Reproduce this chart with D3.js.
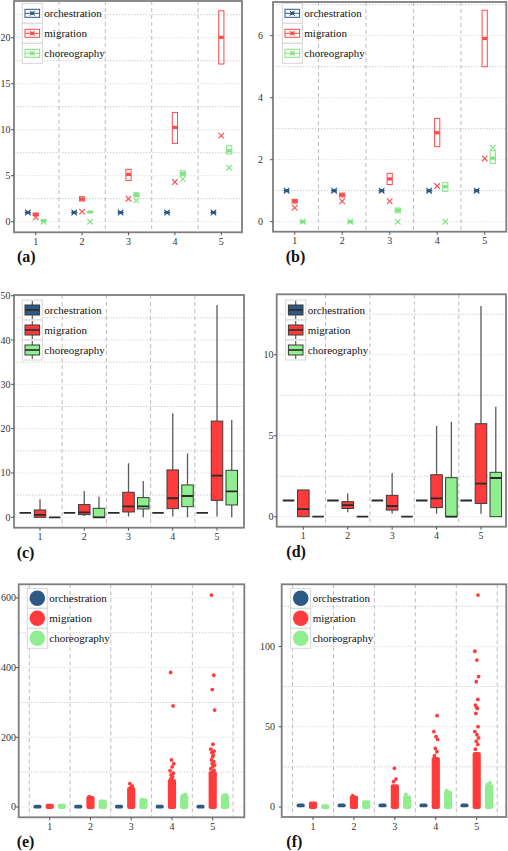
<!DOCTYPE html>
<html><head><meta charset="utf-8">
<script src="https://cdn.jsdelivr.net/npm/d3@7"></script>
<style>html,body{margin:0;padding:0;background:#fff;}svg{display:block;}
svg text{font-family:"Liberation Serif","DejaVu Serif",serif;}</style>
</head><body>
<script>
// ---------- DATA ----------
const groups = [1, 2, 3, 4, 5];
const seriesNames = ["orchestration", "migration", "choreography"];
const panelLabels = ["(a)", "(b)", "(c)", "(d)", "(e)", "(f)"];

// (a) interval plot: box low/high, mid point, cross marker
const aOrchLo = [1, 1, 1, 1, 1], aOrchHi = [1, 1, 1, 1, 1], aOrchMid = [1, 1, 1, 1, 1], aOrchX = [1, 1, 1, 1, 1];
const aMigLo = [0.66, 2.25, 4.49, 8.51, 17.14];
const aMigHi = [0.94, 2.72, 5.69, 11.88, 22.93];
const aMigMid = [0.8, 2.46, 5.14, 10.25, 20.04];
const aMigX = [0.47, 1.09, 2.5, 4.31, 9.35];
const aChoLo = [0.05, 1.0, 2.72, 5.0, 7.36];
const aChoHi = [0.15, 1.1, 3.15, 5.54, 8.26];
const aChoMid = [0.1, 1.05, 2.93, 5.25, 7.72];
const aChoX = [0, 0, 2.32, 4.64, 5.87];

// (b) interval plot
const bOrchLo = [1, 1, 1, 1, 1], bOrchHi = [1, 1, 1, 1, 1], bOrchMid = [1, 1, 1, 1, 1], bOrchX = [1, 1, 1, 1, 1];
const bMigLo = [0.6, 0.8, 1.2, 2.42, 5.0];
const bMigHi = [0.72, 0.92, 1.56, 3.33, 6.82];
const bMigMid = [0.66, 0.86, 1.38, 2.87, 5.91];
const bMigX = [0.45, 0.66, 0.66, 1.15, 2.04];
const bChoLo = [0, 0, 0.29, 0.98, 1.88];
const bChoHi = [0, 0, 0.44, 1.26, 2.29];
const bChoMid = [0, 0, 0.37, 1.13, 2.05];
const bChoX = [0, 0, 0, 0, 2.39];

// (c) boxplots: whisker low, q1, median, q3, whisker high
const cOrchWLo = [1, 1, 1, 1, 1], cOrchQ1 = [1, 1, 1, 1, 1], cOrchMed = [1, 1, 1, 1, 1], cOrchQ3 = [1, 1, 1, 1, 1], cOrchWHi = [1, 1, 1, 1, 1];
const cMigWLo = [0, 0.3, 0.2, 0.2, 0.2];
const cMigQ1 = [0, 0.6, 1.2, 1.95, 3.83];
const cMigMed = [0.55, 1.13, 2.48, 4.29, 9.4];
const cMigQ3 = [1.65, 2.86, 5.64, 10.68, 21.7];
const cMigWHi = [4.06, 5.94, 12.2, 23.5, 47.9];
const cChoWLo = [0, 0, 0, 0, 0];
const cChoQ1 = [0, 0, 1.88, 2.4, 2.78];
const cChoMed = [0, 0, 2.48, 4.8, 5.86];
const cChoQ3 = [0, 2.03, 4.44, 7.3, 10.6];
const cChoWHi = [0, 4.66, 8.2, 14.4, 21.95];

// (d) boxplots
const dOrchWLo = [1, 1, 1, 1, 1], dOrchQ1 = [1, 1, 1, 1, 1], dOrchMed = [1, 1, 1, 1, 1], dOrchQ3 = [1, 1, 1, 1, 1], dOrchWHi = [1, 1, 1, 1, 1];
const dMigWLo = [0, 0.27, 0.2, 0.19, 0.19];
const dMigQ1 = [0, 0.51, 0.41, 0.56, 0.82];
const dMigMed = [0.47, 0.72, 0.66, 1.13, 2.04];
const dMigQ3 = [1.65, 0.93, 1.32, 2.59, 5.74];
const dMigWHi = [1.65, 1.44, 2.7, 5.6, 13.0];
const dChoWLo = [0, 0, 0, 0, 0];
const dChoQ1 = [0, 0, 0, 0, 0];
const dChoMed = [0, 0, 0, 0, 2.39];
const dChoQ3 = [0, 0, 0, 2.41, 2.74];
const dChoWHi = [0, 0, 0, 5.86, 6.79];

// (e) jittered points: dense range (low, high) + individually read points
const eOrchLo = [1, 1, 1, 1, 1], eOrchHi = [1, 1, 1, 1, 1], eOrchPts = [[], [], [], [], []];
const eMigLo = [0, 0, 0, 0, 0];
const eMigHi = [4, 26, 52, 75, 97];
const eMigPts = [[], [30], [67, 60, 56], [386, 290, 135, 124, 115, 104, 97, 92, 87, 84, 80],
  [608, 378, 337, 278, 180, 166, 160, 156, 149, 144, 135, 130, 125, 120, 116, 110, 105, 101]];
const eChoLo = [0, 0, 0, 0, 0];
const eChoHi = [4, 15, 19, 29, 30];
const eChoPts = [[], [17], [22], [33, 36], [33, 35]];

// (f) jittered points
const fOrchLo = [1, 1, 1, 1, 1], fOrchHi = [1, 1, 1, 1, 1], fOrchPts = [[], [], [], [], []];
const fMigLo = [0, 0, 0, 0, 0];
const fMigHi = [2.3, 6, 13, 30, 33];
const fMigPts = [[], [7], [15.8, 17.4, 24.1], [32, 34.4, 36.5, 42.1, 43.8, 46.9, 56.9],
  [36, 39, 41, 43, 45, 47, 50, 58.3, 61.4, 62, 63.5, 67, 78, 81.2, 91.5, 97, 132]];
const fChoLo = [0, 0, 0, 0, 0];
const fChoHi = [0.5, 3, 6, 9, 13];
const fChoPts = [[], [], [7.9], [10.2], [14, 15.1]];

// tick labels
const aTicks = [0, 5, 10, 15, 20], bTicks = [0, 2, 4, 6], cTicks = [0, 10, 20, 30, 40, 50];
const dTicks = [0, 5, 10], eTicks = [0, 200, 400, 600], fTicks = [0, 50, 100];

// ---------- STYLE ----------
const colors = ["#2d5985", "#ff3b3b", "#90ee90"];
const lineColors = ["#2d5985", "#ff4a4a", "#7fe37f"];
const FONT = "Liberation Serif";
const jitterPattern = [-0.6, 0.5, -0.2, 0.85, 0.1, -0.85, 0.6, -0.4, 0.3, -0.1];

const svg = d3.select("body").append("svg").attr("width", 508).attr("height", 851)
  .style("background", "#fff");

function drawPanel(cfg) {
  const x = d3.scaleLinear().domain(cfg.xd).range([cfg.left, cfg.right]);
  const y = d3.scaleLinear().domain(cfg.yd).range([cfg.bottom, cfg.top]);
  const g = svg.append("g");
  const clipId = "clip" + cfg.id;
  svg.append("clipPath").attr("id", clipId).append("rect")
    .attr("x", cfg.left).attr("y", cfg.top).attr("width", cfg.right - cfg.left).attr("height", cfg.bottom - cfg.top);
  const inner = g.append("g").attr("clip-path", `url(#${clipId})`);
  inner.append("rect").attr("x", cfg.left).attr("y", cfg.top)
    .attr("width", cfg.right - cfg.left).attr("height", cfg.bottom - cfg.top).attr("fill", "#fff");

  // grid
  const step = cfg.ticks[1] - cfg.ticks[0];
  const minor = d3.range(cfg.ticks[0] + step / 2, cfg.yd[1], step);
  inner.selectAll(".mi").data(minor).join("line")
    .attr("x1", cfg.left).attr("x2", cfg.right).attr("y1", d => y(d)).attr("y2", d => y(d))
    .attr("stroke", "#cfcfcf").attr("stroke-width", 1).attr("stroke-dasharray", "1.5,1.5");
  inner.selectAll(".ma").data(cfg.ticks).join("line")
    .attr("x1", cfg.left).attr("x2", cfg.right).attr("y1", d => y(d)).attr("y2", d => y(d))
    .attr("stroke", "#e2e2e2").attr("stroke-width", 1).attr("stroke-dasharray", "1.5,1.5");
  inner.selectAll(".vl").data(cfg.vlines).join("line")
    .attr("x1", d => x(d)).attr("x2", d => x(d)).attr("y1", cfg.top).attr("y2", cfg.bottom)
    .attr("stroke", "#bdbdbd").attr("stroke-width", 1).attr("stroke-dasharray", "4,3");

  const dodge = [-cfg.dodge, 0, cfg.dodge];
  const sp = x(2) - x(1);

  if (cfg.type === "interval") {
    cfg.data.forEach((s, si) => {
      groups.forEach((gv, i) => {
        const cx = x(gv + dodge[si]);
        const c = lineColors[si];
        inner.append("rect").attr("x", cx - 2.6).attr("y", y(s.hi[i]))
          .attr("width", 5.2).attr("height", Math.max(0.01, y(s.lo[i]) - y(s.hi[i])))
          .attr("fill", "none").attr("stroke", c).attr("stroke-width", 1);
        inner.append("rect").attr("x", cx - 2.4).attr("y", y(s.mid[i]) - 1.6)
          .attr("width", 4.8).attr("height", 3.2).attr("fill", c);
        const cy = y(s.cross[i]), h = 2.8;
        inner.append("path").attr("d", `M${cx - h},${cy - h}L${cx + h},${cy + h}M${cx - h},${cy + h}L${cx + h},${cy - h}`)
          .attr("stroke", c).attr("stroke-width", 1.1).attr("fill", "none");
      });
    });
  } else if (cfg.type === "box") {
    const bw = 0.26 * sp;
    cfg.data.forEach((s, si) => {
      groups.forEach((gv, i) => {
        const cx = x(gv + dodge[si]);
        inner.append("line").attr("x1", cx).attr("x2", cx).attr("y1", y(s.whi[i])).attr("y2", y(s.q3[i]))
          .attr("stroke", "#5a5a5a").attr("stroke-width", 1.3);
        inner.append("line").attr("x1", cx).attr("x2", cx).attr("y1", y(s.q1[i])).attr("y2", y(s.wlo[i]))
          .attr("stroke", "#5a5a5a").attr("stroke-width", 1.3);
        inner.append("rect").attr("x", cx - bw / 2).attr("y", y(s.q3[i]))
          .attr("width", bw).attr("height", y(s.q1[i]) - y(s.q3[i]))
          .attr("fill", colors[si]).attr("stroke", "#3a3a3a").attr("stroke-width", 1);
        inner.append("line").attr("x1", cx - bw / 2).attr("x2", cx + bw / 2).attr("y1", y(s.med[i])).attr("y2", y(s.med[i]))
          .attr("stroke", "#2a2a2a").attr("stroke-width", 1.8);
      });
    });
  } else if (cfg.type === "points") {
    const r = 1.9, half = 4.1;
    cfg.data.forEach((s, si) => {
      groups.forEach((gv, i) => {
        const cx = x(gv + dodge[si]);
        inner.append("rect").attr("x", cx - half).attr("width", half * 2)
          .attr("y", y(s.hi[i]) - r).attr("height", y(s.lo[i]) - y(s.hi[i]) + 2 * r)
          .attr("rx", r).attr("ry", r).attr("fill", colors[si]);
        inner.selectAll(null).data(s.pts[i]).join("circle")
          .attr("cx", (d, k) => cx + jitterPattern[k % jitterPattern.length] * (half - r))
          .attr("cy", d => y(d)).attr("r", r).attr("fill", colors[si]);
      });
    });
  }

  // legend
  const L = cfg.legend;
  seriesNames.forEach((name, si) => {
    const ly = L.y + si * 20;
    g.append("rect").attr("x", L.x).attr("y", ly).attr("width", 20).attr("height", 20)
      .attr("fill", "#fff").attr("stroke", "#d6d6d6").attr("stroke-width", 1);
    const cx = L.x + 10, cy = ly + 10;
    if (cfg.type === "interval") {
      const c = lineColors[si];
      g.append("rect").attr("x", L.x + 2.7).attr("y", cy - 4).attr("width", 14.6).attr("height", 8)
        .attr("fill", "none").attr("stroke", c).attr("stroke-width", 1);
      g.append("line").attr("x1", L.x + 2.7).attr("x2", L.x + 17.3).attr("y1", cy).attr("y2", cy).attr("stroke", c);
      g.append("rect").attr("x", cx - 2).attr("y", cy - 1.6).attr("width", 4).attr("height", 3.2).attr("fill", c);
      g.append("path").attr("d", `M${cx - 2.5},${cy - 2.5}L${cx + 2.5},${cy + 2.5}M${cx - 2.5},${cy + 2.5}L${cx + 2.5},${cy - 2.5}`)
        .attr("stroke", c).attr("stroke-width", 1);
    } else if (cfg.type === "box") {
      g.append("line").attr("x1", cx).attr("x2", cx).attr("y1", ly + 1).attr("y2", ly + 19).attr("stroke", "#5a5a5a").attr("stroke-width", 1.2);
      g.append("rect").attr("x", L.x + 2.7).attr("y", ly + 5).attr("width", 14.6).attr("height", 10)
        .attr("fill", colors[si]).attr("stroke", "#3a3a3a").attr("stroke-width", 1);
      g.append("line").attr("x1", L.x + 2.7).attr("x2", L.x + 17.3).attr("y1", cy).attr("y2", cy).attr("stroke", "#2a2a2a").attr("stroke-width", 1.6);
    } else {
      g.append("circle").attr("cx", cx).attr("cy", cy).attr("r", 7.8).attr("fill", colors[si]);
    }
    g.append("text").attr("x", L.x + 22).attr("y", cy).attr("dy", "0.33em")
      .style("font-family", FONT).attr("font-size", 11).attr("fill", "#111").text(name);
  });

  // border
  g.append("rect").attr("x", cfg.left).attr("y", cfg.top)
    .attr("width", cfg.right - cfg.left).attr("height", cfg.bottom - cfg.top)
    .attr("fill", "none").attr("stroke", "#7f7f7f").attr("stroke-width", 1.8);

  // axes (ticks + labels)
  g.selectAll(".yt").data(cfg.ticks).join("line")
    .attr("x1", cfg.left - 3).attr("x2", cfg.left).attr("y1", d => y(d)).attr("y2", d => y(d))
    .attr("stroke", "#555").attr("stroke-width", 1);
  g.selectAll(".yl").data(cfg.ticks).join("text")
    .attr("x", cfg.labelRight).attr("y", d => y(d)).attr("dy", "0.35em").attr("text-anchor", "end")
    .style("font-family", FONT).attr("font-size", 10).attr("fill", "#333").text(d => d);
  g.selectAll(".xt").data(groups).join("line")
    .attr("x1", d => x(d)).attr("x2", d => x(d)).attr("y1", cfg.bottom).attr("y2", cfg.bottom + 3)
    .attr("stroke", "#555").attr("stroke-width", 1);
  g.selectAll(".xl").data(groups).join("text")
    .attr("x", d => x(d)).attr("y", cfg.bottom + 12.5).attr("text-anchor", "middle")
    .style("font-family", FONT).attr("font-size", 10).attr("fill", "#333").text(d => d);
  g.append("text").attr("x", cfg.plx).attr("y", cfg.bottom + 30)
    .style("font-family", FONT).attr("font-size", 16).attr("font-weight", "bold").attr("fill", "#111")
    .text(cfg.label);
}

const inner5 = [1.5, 2.5, 3.5, 4.5];
const all6 = [0.5, 1.5, 2.5, 3.5, 4.5, 5.5];

drawPanel({ id: "a", type: "interval", left: 14, right: 242, top: 1, bottom: 232.3,
  xd: [0.532, 5.446], yd: [-1.152, 23.99], ticks: aTicks, vlines: inner5, dodge: 0.17,
  labelRight: 10.5, plx: 17, label: panelLabels[0], legend: { x: 22.3, y: 3.3 },
  data: [
    { lo: aOrchLo, hi: aOrchHi, mid: aOrchMid, cross: aOrchX },
    { lo: aMigLo, hi: aMigHi, mid: aMigMid, cross: aMigX },
    { lo: aChoLo, hi: aChoHi, mid: aChoMid, cross: aChoX }] });

drawPanel({ id: "b", type: "interval", left: 273, right: 506.3, top: 2, bottom: 231.7,
  xd: [0.543, 5.455], yd: [-0.323, 7.087], ticks: bTicks, vlines: inner5, dodge: 0.17,
  labelRight: 263, plx: 285.7, label: panelLabels[1], legend: { x: 282.3, y: 3.3 },
  data: [
    { lo: bOrchLo, hi: bOrchHi, mid: bOrchMid, cross: bOrchX },
    { lo: bMigLo, hi: bMigHi, mid: bMigMid, cross: bMigX },
    { lo: bChoLo, hi: bChoHi, mid: bChoMid, cross: bChoX }] });

drawPanel({ id: "c", type: "box", left: 14, right: 244, top: 295, bottom: 527.7,
  xd: [0.412, 5.61], yd: [-2.35, 50.16], ticks: cTicks, vlines: inner5, dodge: 0.333,
  labelRight: 10.5, plx: 16.7, label: panelLabels[2], legend: { x: 22.3, y: 300 },
  data: [
    { wlo: cOrchWLo, q1: cOrchQ1, med: cOrchMed, q3: cOrchQ3, whi: cOrchWHi },
    { wlo: cMigWLo, q1: cMigQ1, med: cMigMed, q3: cMigQ3, whi: cMigWHi },
    { wlo: cChoWLo, q1: cChoQ1, med: cChoMed, q3: cChoQ3, whi: cChoWHi }] });

drawPanel({ id: "d", type: "box", left: 276.7, right: 506, top: 294.3, bottom: 526.7,
  xd: [0.401, 5.563], yd: [-0.617, 13.73], ticks: dTicks, vlines: inner5, dodge: 0.333,
  labelRight: 273.5, plx: 286.3, label: panelLabels[3], legend: { x: 285.7, y: 300 },
  data: [
    { wlo: dOrchWLo, q1: dOrchQ1, med: dOrchMed, q3: dOrchQ3, whi: dOrchWHi },
    { wlo: dMigWLo, q1: dMigQ1, med: dMigMed, q3: dMigQ3, whi: dMigWHi },
    { wlo: dChoWLo, q1: dChoQ1, med: dChoMed, q3: dChoQ3, whi: dChoWHi }] });

drawPanel({ id: "e", type: "points", left: 18.7, right: 244.3, top: 584.3, bottom: 817.3,
  xd: [0.239, 5.775], yd: [-29.6, 639.0], ticks: eTicks, vlines: all6, dodge: 0.3,
  labelRight: 16, plx: 16.7, label: panelLabels[4], legend: { x: 27.3, y: 588.3 },
  data: [
    { lo: eOrchLo, hi: eOrchHi, pts: eOrchPts },
    { lo: eMigLo, hi: eMigHi, pts: eMigPts },
    { lo: eChoLo, hi: eChoHi, pts: eChoPts }] });

drawPanel({ id: "f", type: "points", left: 281.7, right: 506.3, top: 584.3, bottom: 817,
  xd: [0.235, 5.723], yd: [-6.23, 138.7], ticks: fTicks, vlines: all6, dodge: 0.3,
  labelRight: 275, plx: 286.3, label: panelLabels[5], legend: { x: 290.7, y: 588.3 },
  data: [
    { lo: fOrchLo, hi: fOrchHi, pts: fOrchPts },
    { lo: fMigLo, hi: fMigHi, pts: fMigPts },
    { lo: fChoLo, hi: fChoHi, pts: fChoPts }] });
</script>
</body></html>
